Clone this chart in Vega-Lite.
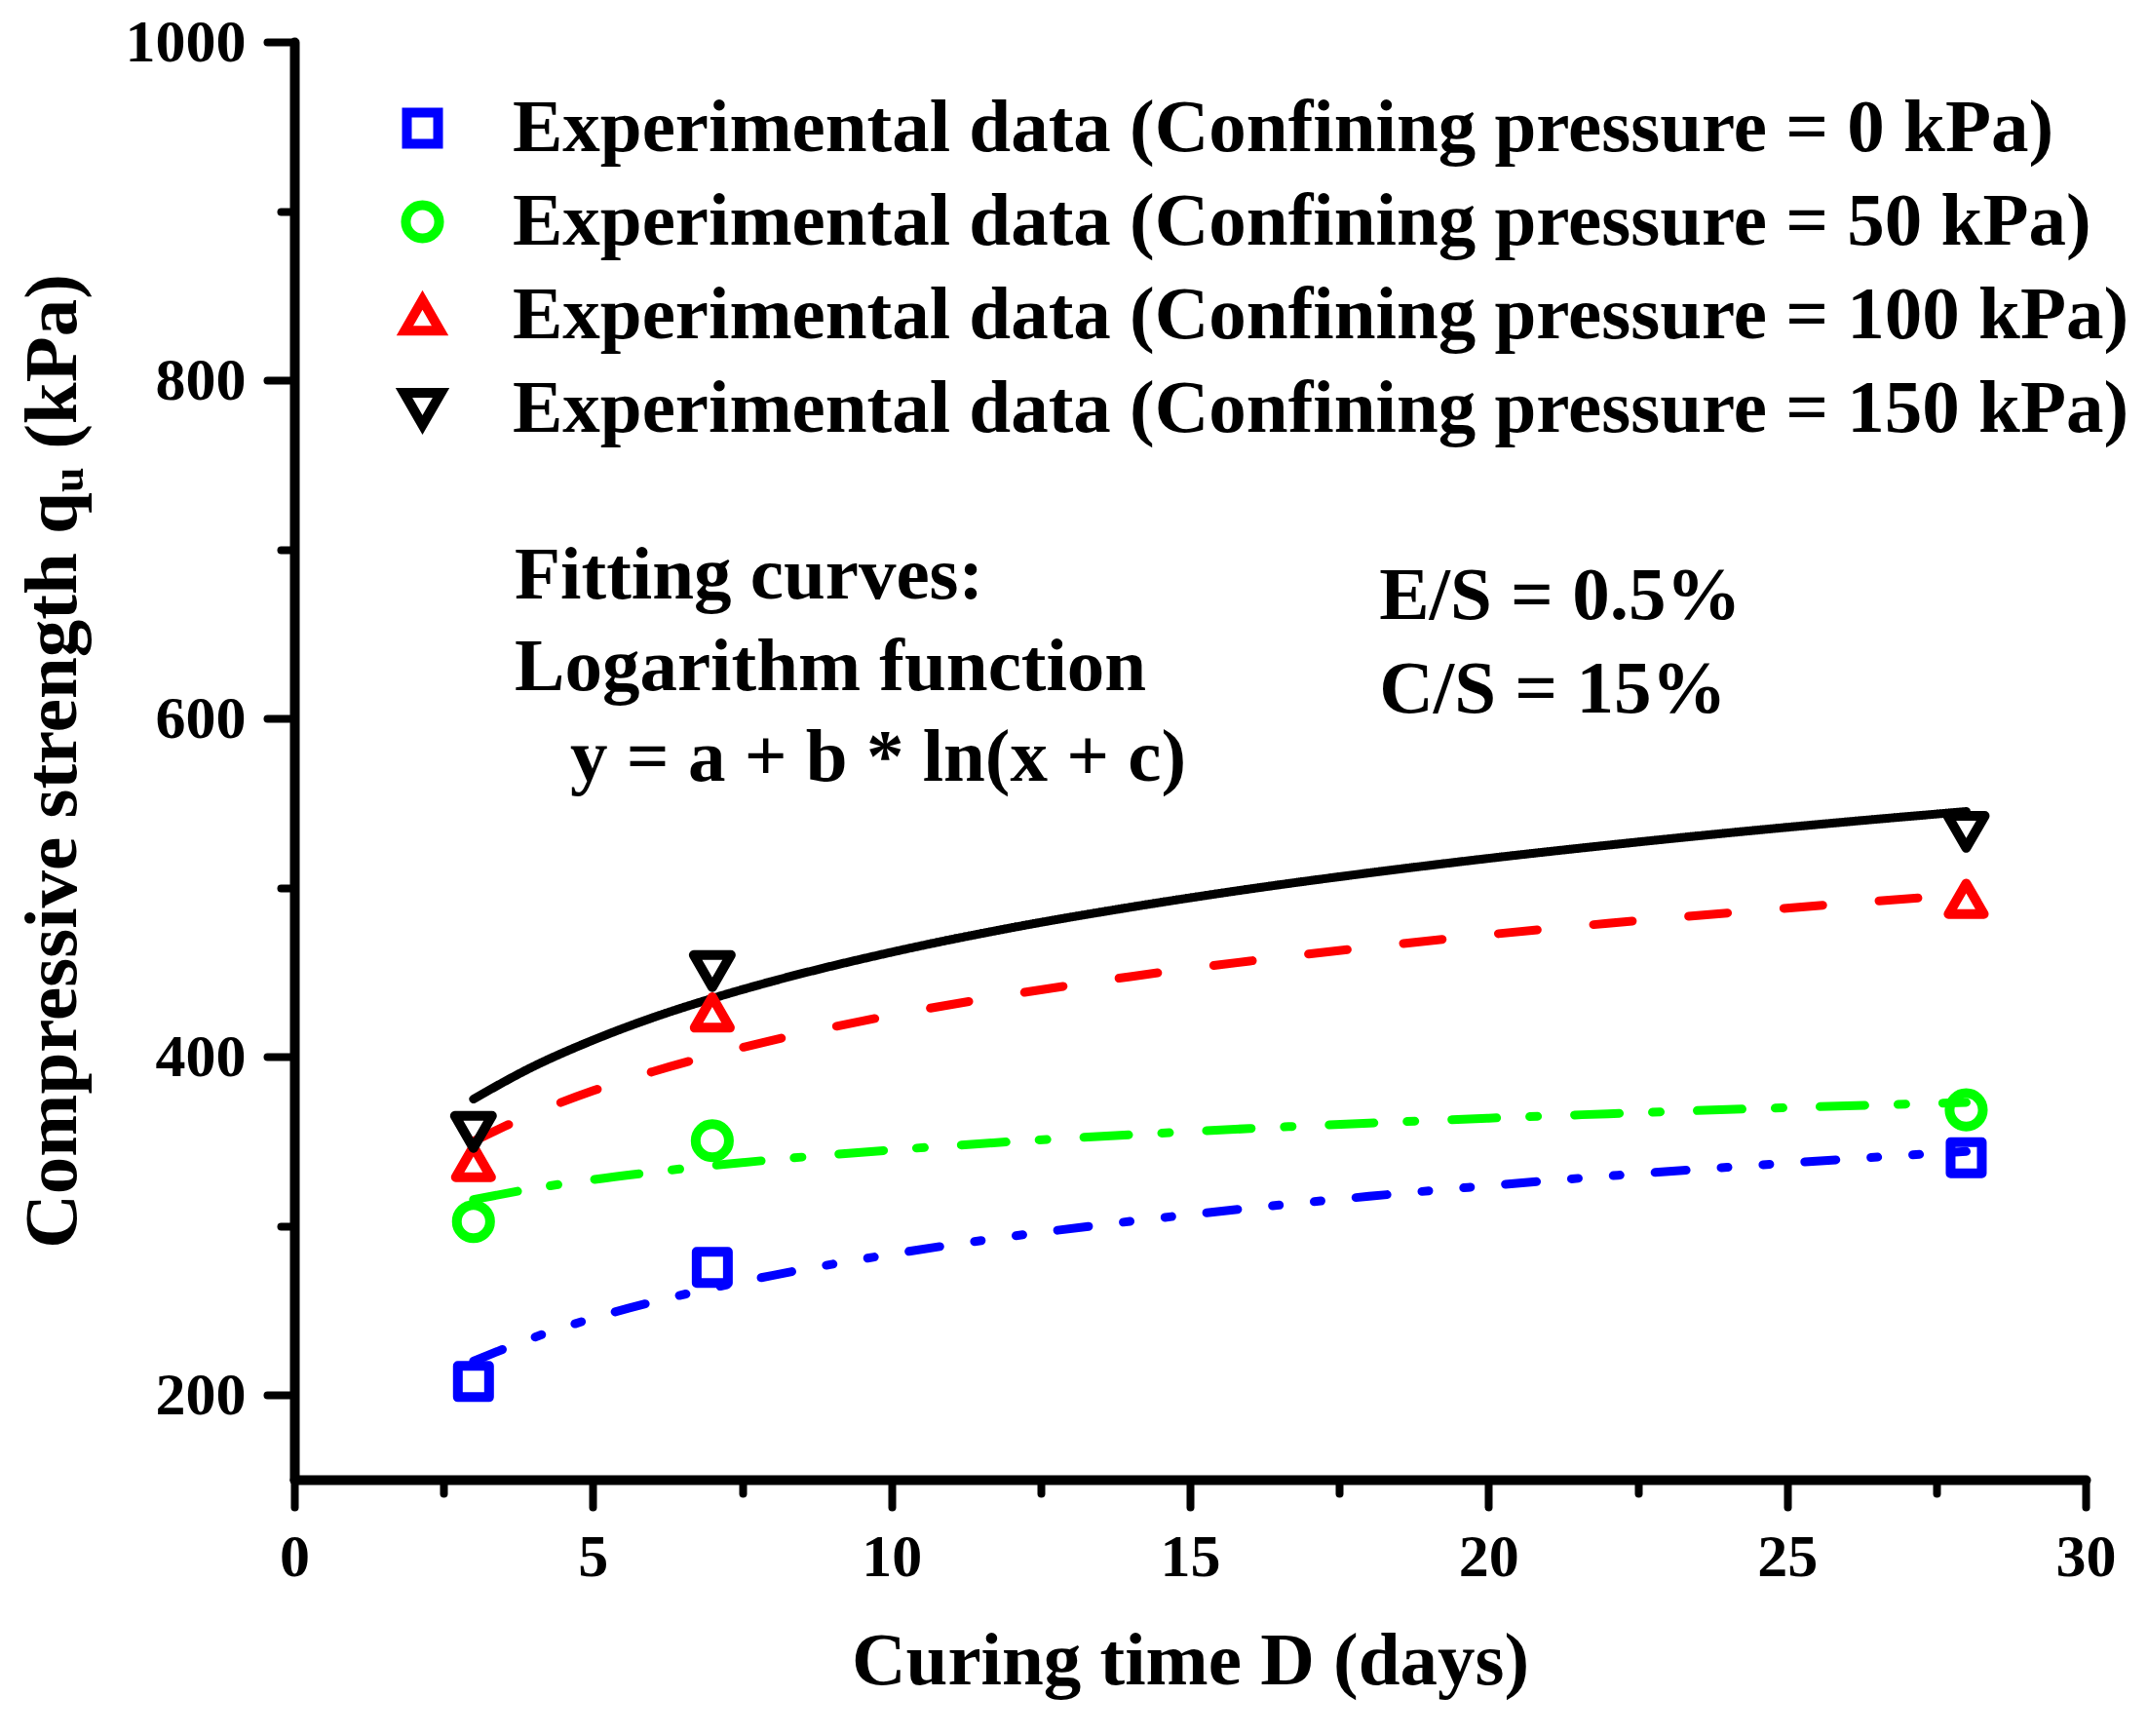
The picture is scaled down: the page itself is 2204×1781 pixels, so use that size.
{
  "$schema": "https://vega.github.io/schema/vega-lite/v6.json",
  "width": 1838,
  "height": 1475,
  "autosize": {"type": "none"},
  "padding": {"left": 302, "top": 43, "right": 64, "bottom": 263},
  "background": "white",
  "config": {
    "view": {"stroke": null},
    "font": "Liberation Serif"
  },
  "datasets": {
    "points": [
      {"series": "Experimental data (Confining pressure = 0 kPa)", "day": 3, "qu": 208},
      {"series": "Experimental data (Confining pressure = 0 kPa)", "day": 7, "qu": 275.5},
      {"series": "Experimental data (Confining pressure = 0 kPa)", "day": 28, "qu": 340.3},
      {"series": "Experimental data (Confining pressure = 50 kPa)", "day": 3, "qu": 302.6},
      {"series": "Experimental data (Confining pressure = 50 kPa)", "day": 7, "qu": 350.4},
      {"series": "Experimental data (Confining pressure = 50 kPa)", "day": 28, "qu": 368.6},
      {"series": "Experimental data (Confining pressure = 100 kPa)", "day": 3, "qu": 337.8},
      {"series": "Experimental data (Confining pressure = 100 kPa)", "day": 7, "qu": 426.2},
      {"series": "Experimental data (Confining pressure = 100 kPa)", "day": 28, "qu": 493.4},
      {"series": "Experimental data (Confining pressure = 150 kPa)", "day": 3, "qu": 355.6},
      {"series": "Experimental data (Confining pressure = 150 kPa)", "day": 7, "qu": 450.7},
      {"series": "Experimental data (Confining pressure = 150 kPa)", "day": 28, "qu": 533}
    ],
    "curves": [
      {"fit": "0 kPa", "day": 3, "qu": 220},
      {"fit": "0 kPa", "day": 4, "qu": 233.9},
      {"fit": "0 kPa", "day": 5, "qu": 245.4},
      {"fit": "0 kPa", "day": 6, "qu": 255},
      {"fit": "0 kPa", "day": 7, "qu": 263.3},
      {"fit": "0 kPa", "day": 8, "qu": 270.7},
      {"fit": "0 kPa", "day": 10, "qu": 283.3},
      {"fit": "0 kPa", "day": 12, "qu": 293.8},
      {"fit": "0 kPa", "day": 14, "qu": 302.7},
      {"fit": "0 kPa", "day": 16, "qu": 310.5},
      {"fit": "0 kPa", "day": 18, "qu": 317.5},
      {"fit": "0 kPa", "day": 20, "qu": 323.8},
      {"fit": "0 kPa", "day": 22, "qu": 329.5},
      {"fit": "0 kPa", "day": 24, "qu": 334.7},
      {"fit": "0 kPa", "day": 26, "qu": 339.5},
      {"fit": "0 kPa", "day": 28, "qu": 344},
      {"fit": "50 kPa", "day": 3, "qu": 315.6},
      {"fit": "50 kPa", "day": 4, "qu": 322.1},
      {"fit": "50 kPa", "day": 5, "qu": 327.4},
      {"fit": "50 kPa", "day": 6, "qu": 331.8},
      {"fit": "50 kPa", "day": 7, "qu": 335.7},
      {"fit": "50 kPa", "day": 8, "qu": 339.1},
      {"fit": "50 kPa", "day": 10, "qu": 344.9},
      {"fit": "50 kPa", "day": 12, "qu": 349.8},
      {"fit": "50 kPa", "day": 14, "qu": 353.9},
      {"fit": "50 kPa", "day": 16, "qu": 357.6},
      {"fit": "50 kPa", "day": 18, "qu": 360.8},
      {"fit": "50 kPa", "day": 20, "qu": 363.7},
      {"fit": "50 kPa", "day": 22, "qu": 366.3},
      {"fit": "50 kPa", "day": 24, "qu": 368.8},
      {"fit": "50 kPa", "day": 26, "qu": 371},
      {"fit": "50 kPa", "day": 28, "qu": 373},
      {"fit": "100 kPa", "day": 3, "qu": 350},
      {"fit": "100 kPa", "day": 4, "qu": 366.4},
      {"fit": "100 kPa", "day": 5, "qu": 379.9},
      {"fit": "100 kPa", "day": 6, "qu": 391.2},
      {"fit": "100 kPa", "day": 7, "qu": 401},
      {"fit": "100 kPa", "day": 8, "qu": 409.7},
      {"fit": "100 kPa", "day": 10, "qu": 424.5},
      {"fit": "100 kPa", "day": 12, "qu": 436.8},
      {"fit": "100 kPa", "day": 14, "qu": 447.4},
      {"fit": "100 kPa", "day": 16, "qu": 456.6},
      {"fit": "100 kPa", "day": 18, "qu": 464.8},
      {"fit": "100 kPa", "day": 20, "qu": 472.2},
      {"fit": "100 kPa", "day": 22, "qu": 478.9},
      {"fit": "100 kPa", "day": 24, "qu": 485},
      {"fit": "100 kPa", "day": 26, "qu": 490.7},
      {"fit": "100 kPa", "day": 28, "qu": 496},
      {"fit": "150 kPa", "day": 3, "qu": 375},
      {"fit": "150 kPa", "day": 4, "qu": 394.2},
      {"fit": "150 kPa", "day": 5, "qu": 409.8},
      {"fit": "150 kPa", "day": 6, "qu": 423.1},
      {"fit": "150 kPa", "day": 7, "qu": 434.5},
      {"fit": "150 kPa", "day": 8, "qu": 444.6},
      {"fit": "150 kPa", "day": 10, "qu": 461.8},
      {"fit": "150 kPa", "day": 12, "qu": 476.2},
      {"fit": "150 kPa", "day": 14, "qu": 488.4},
      {"fit": "150 kPa", "day": 16, "qu": 499.2},
      {"fit": "150 kPa", "day": 18, "qu": 508.7},
      {"fit": "150 kPa", "day": 20, "qu": 517.3},
      {"fit": "150 kPa", "day": 22, "qu": 525.1},
      {"fit": "150 kPa", "day": 24, "qu": 532.3},
      {"fit": "150 kPa", "day": 26, "qu": 538.9},
      {"fit": "150 kPa", "day": 28, "qu": 545}
    ],
    "notes": [
      {"day": 3.69, "qu": 671, "text": "Fitting curves:"},
      {"day": 3.69, "qu": 617, "text": "Logarithm function"},
      {"day": 4.62, "qu": 563, "text": "y = a + b * ln(x + c)"},
      {"day": 18.17, "qu": 659, "text": "E/S = 0.5%"},
      {"day": 18.17, "qu": 603.5, "text": "C/S = 15%"}
    ]
  },
  "layer": [
    {
      "data": {"name": "curves"},
      "mark": {"type": "line", "strokeWidth": 9, "strokeCap": "round", "strokeJoin": "round", "interpolate": "monotone"},
      "encoding": {
        "x": {
          "field": "day",
          "type": "quantitative",
          "scale": {"domain": [0, 30], "nice": false},
          "axis": {
            "title": "Curing time D (days)",
            "values": [0, 2.5, 5, 7.5, 10, 12.5, 15, 17.5, 20, 22.5, 25, 27.5, 30],
            "format": "d",
            "labelExpr": "datum.value % 5 === 0 ? datum.label : ''",
            "tickSize": {"condition": {"test": "datum.value % 5 === 0", "value": 28}, "value": 14},
            "tickWidth": 8,
            "tickColor": "black",
            "tickCap": "round",
            "domainColor": "black",
            "domainWidth": 10,
            "domainCap": "round",
            "grid": false,
            "labelFont": "Liberation Serif",
            "labelFontSize": 62,
            "labelFontWeight": "bold",
            "labelColor": "black",
            "labelPadding": 21,
            "labelFlush": false,
            "labelOverlap": false,
            "titleFont": "Liberation Serif",
            "titleFontSize": 77,
            "titleFontWeight": "bold",
            "titleColor": "black",
            "titlePadding": 38
          }
        },
        "y": {
          "field": "qu",
          "type": "quantitative",
          "scale": {"domain": [150, 1000], "nice": false, "zero": false},
          "axis": {
            "title": "Compressive strength qᵤ (kPa)",
            "values": [200, 300, 400, 500, 600, 700, 800, 900, 1000],
            "format": "d",
            "labelExpr": "datum.value % 200 === 0 ? datum.label : ''",
            "tickSize": {"condition": {"test": "datum.value % 200 === 0", "value": 28}, "value": 14},
            "tickWidth": 8,
            "tickColor": "black",
            "tickCap": "round",
            "domainColor": "black",
            "domainWidth": 10,
            "domainCap": "round",
            "grid": false,
            "labelFont": "Liberation Serif",
            "labelFontSize": 62,
            "labelFontWeight": "bold",
            "labelColor": "black",
            "labelPadding": 22,
            "labelOverlap": false,
            "titleFont": "Liberation Serif",
            "titleFontSize": 77,
            "titleFontWeight": "bold",
            "titleColor": "black",
            "titlePadding": 35
          }
        },
        "stroke": {
          "field": "fit",
          "type": "nominal",
          "scale": {"domain": ["0 kPa", "50 kPa", "100 kPa", "150 kPa"], "range": ["#0000FF", "#00FF00", "#FF0000", "#000000"]},
          "legend": null
        },
        "strokeDash": {
          "field": "fit",
          "type": "nominal",
          "scale": {"domain": ["0 kPa", "50 kPa", "100 kPa", "150 kPa"], "range": [[32, 36, 7, 36, 7, 36], [46, 34, 8, 38], [40, 58], [1, 0]]},
          "legend": null
        }
      }
    },
    {
      "data": {"name": "points"},
      "mark": {"type": "point", "filled": false, "strokeWidth": 10, "strokeJoin": "round", "opacity": 1},
      "encoding": {
        "x": {"field": "day", "type": "quantitative", "scale": {"domain": [0, 30], "nice": false}},
        "y": {"field": "qu", "type": "quantitative", "scale": {"domain": [150, 1000], "nice": false, "zero": false}},
        "color": {
          "field": "series",
          "type": "nominal",
          "scale": {
            "domain": [
              "Experimental data (Confining pressure = 0 kPa)",
              "Experimental data (Confining pressure = 50 kPa)",
              "Experimental data (Confining pressure = 100 kPa)",
              "Experimental data (Confining pressure = 150 kPa)"
            ],
            "range": ["#0000FF", "#00FF00", "#FF0000", "#000000"]
          },
          "legend": {
            "title": null,
            "orient": "none",
            "legendX": 93,
            "legendY": 50,
            "padding": 0,
            "labelFont": "Liberation Serif",
            "labelFontSize": 77,
            "labelFontWeight": "bold",
            "labelColor": "black",
            "labelLimit": 0,
            "labelOffset": 54,
            "rowPadding": 18,
            "symbolStrokeWidth": 10
          }
        },
        "shape": {
          "field": "series",
          "type": "nominal",
          "scale": {
            "domain": [
              "Experimental data (Confining pressure = 0 kPa)",
              "Experimental data (Confining pressure = 50 kPa)",
              "Experimental data (Confining pressure = 100 kPa)",
              "Experimental data (Confining pressure = 150 kPa)"
            ],
            "range": ["square", "circle", "triangle-up", "triangle-down"]
          }
        },
        "size": {
          "field": "series",
          "type": "nominal",
          "scale": {
            "domain": [
              "Experimental data (Confining pressure = 0 kPa)",
              "Experimental data (Confining pressure = 50 kPa)",
              "Experimental data (Confining pressure = 100 kPa)",
              "Experimental data (Confining pressure = 150 kPa)"
            ],
            "range": [1024, 1444, 1600, 1600]
          }
        }
      }
    },
    {
      "data": {"name": "notes"},
      "mark": {"type": "text", "align": "left", "baseline": "alphabetic", "font": "Liberation Serif", "fontSize": 77, "fontWeight": "bold", "color": "black"},
      "encoding": {
        "x": {"field": "day", "type": "quantitative", "scale": {"domain": [0, 30], "nice": false}},
        "y": {"field": "qu", "type": "quantitative", "scale": {"domain": [150, 1000], "nice": false, "zero": false}},
        "text": {"field": "text", "type": "nominal"}
      }
    }
  ]
}
